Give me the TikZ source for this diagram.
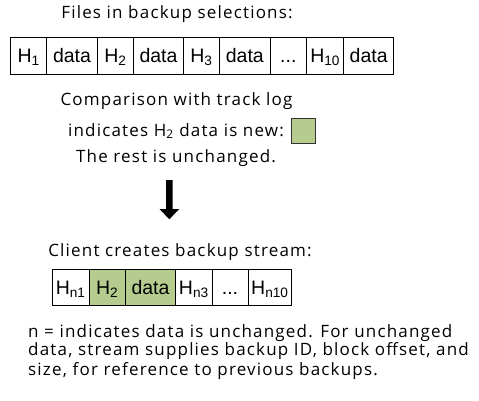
\documentclass[tikz,border=0pt]{standalone}
\usepackage{fontspec}
\setmainfont{Open Sans}[LetterSpace=7]
\newfontfamily\boxfont{Liberation Sans}
\definecolor{newgreen}{RGB}{181,204,142}
\begin{document}
\begin{tikzpicture}[x=1pt,y=-1pt,
  cell/.style={draw=black, line width=0.8pt, inner sep=0pt, minimum height=36.3pt,
    text height=14pt, text depth=0pt,
    font=\boxfont\fontsize{19.5}{22}\selectfont},
  newcell/.style={cell, fill=newgreen},
  lbl/.style={inner sep=0pt, anchor=base, font=\fontsize{17}{20}\selectfont},
  lblL/.style={lbl, anchor=base west}]
\useasboundingbox (0,0) rectangle (479,400);
% top row
\node[cell, minimum width=36pt]   (t1) at (28.7,55.85) {H\textsubscript{1}};
\node[cell, minimum width=50.6pt] (t2) at (72,55.85) {data};
\node[cell, minimum width=36.4pt] (t3) at (115.5,55.85) {H\textsubscript{2}};
\node[cell, minimum width=49.6pt] (t4) at (158.5,55.85) {data};
\node[cell, minimum width=36.4pt] (t5) at (201.5,55.85) {H\textsubscript{3}};
\node[cell, minimum width=50.3pt] (t6) at (244.85,55.85) {data};
\node[cell, minimum width=36.7pt] (t7) at (288.35,55.85) {...};
\node[cell, minimum width=37pt]   (t8) at (325.2,55.85) {H\textsubscript{10}};
\node[cell, minimum width=50pt]   (t9) at (368.7,55.85) {data};
% texts
\node[lbl] (l1) at (177,18.3) {Files in backup selections:};
\node[lbl] (l2) at (176.5,105) {Comparison with track log};
\node[lbl] (l3) at (176,136) {indicates H\textsubscript{2} data is new:};
\node[draw=black!80, fill=newgreen, line width=0.8pt, minimum width=24pt, minimum height=25pt, inner sep=0pt] (sq) at (303,131.2) {};
\node[lbl] (l4) at (176,162) {The rest is unchanged.};
% arrow
\fill[black] (166,180) -- (172.7,180) -- (172.7,209) -- (179.3,209) -- (169.3,219.3) -- (159.5,209) -- (166,209) -- cycle;
\node[lbl] (l5) at (180,256) {Client creates backup stream:};
% bottom row
\node[cell, minimum width=36.7pt] (b1) at (70.65,287.5) {H\textsubscript{n1}};
\node[newcell, minimum width=36.3pt] (b2) at (107.15,287.5) {H\textsubscript{2}};
\node[newcell, minimum width=50.4pt] (b3) at (150.5,287.5) {data};
\node[cell, minimum width=36.3pt] (b4) at (193.85,287.5) {H\textsubscript{n3}};
\node[cell, minimum width=36pt]   (b5) at (230,287.5) {...};
\node[cell, minimum width=43.7pt] (b6) at (269.85,287.5) {H\textsubscript{n10}};
% bottom note
\node[lblL] (n1) at (28,337) {n = indicates data is unchanged. For unchanged};
\node[lblL] (n2) at (28,355.7) {data, stream supplies backup ID, block offset, and};
\node[lblL] (n3) at (28,375.3) {size, for reference to previous backups.};
\end{tikzpicture}
\end{document}
